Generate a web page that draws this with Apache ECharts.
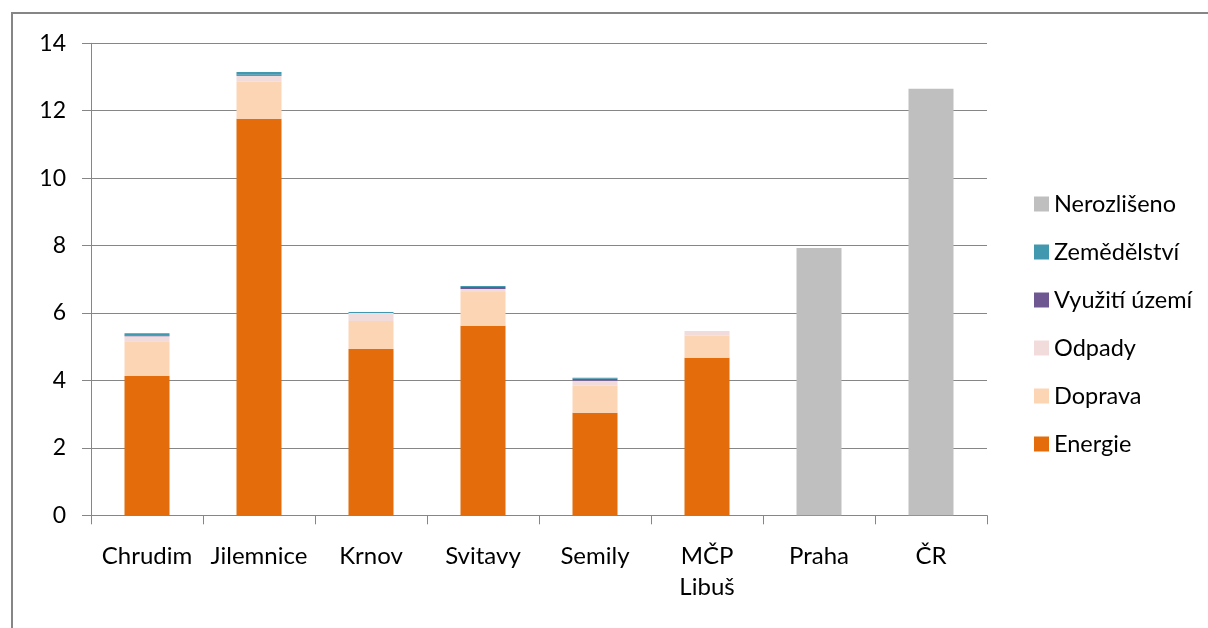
<!DOCTYPE html>
<html>
<head>
<meta charset="utf-8">
<script src="https://cdn.jsdelivr.net/npm/echarts@6/dist/echarts.min.js"></script>
<style>html,body{margin:0;padding:0;background:#fff;}#c{width:1208px;height:628px;}</style>
</head>
<body>
<div id="c"></div>
<script>
var categories = ['Chrudim', 'Jilemnice', 'Krnov', 'Svitavy', 'Semily', 'MČP\nLibuš', 'Praha', 'ČR'];
var energie     = [4.13, 11.76, 4.93, 5.62, 3.04, 4.67, null, null];
var doprava     = [1.03, 1.10, 0.83, 1.00, 0.81, 0.66, null, null];
var odpady      = [0.15, 0.18, 0.24, 0.09, 0.14, 0.14, null, null];
var vyuziti     = [0.03, 0.03, 0.00, 0.06, 0.06, 0.00, null, null];
var zemedelstvi = [0.06, 0.08, 0.03, 0.03, 0.03, 0.00, null, null];
var nerozliseno = [null, null, null, null, null, null, 7.93, 12.65];
var yTicks = [0, 2, 4, 6, 8, 10, 12, 14];

var FONT = 'Lato';
var chart = echarts.init(document.getElementById('c'), null, {renderer: 'canvas'});
function s(name, data, color) {
  return {name: name, type: 'bar', stack: 'a', data: data, barWidth: 45,
    itemStyle: {color: color}, emphasis: {disabled: true}};
}
chart.setOption({
  animation: false,
  textStyle: {fontFamily: FONT},
  graphic: [{type: 'rect', shape: {x: 12, y: 13, width: 1300, height: 700},
    style: {fill: 'none', stroke: '#868686', lineWidth: 2}, silent: true}],
  grid: {left: 91, right: 221, top: 43.3, bottom: 112.7, containLabel: false},
  legend: {
    orient: 'vertical', left: 1029, top: 187,
    itemWidth: 15, itemHeight: 15, itemGap: 24,
    icon: 'rect',
    textStyle: {fontFamily: FONT, fontSize: 23.5, color: '#000', lineHeight: 24},
    data: ['Nerozlišeno', 'Zemědělství', 'Využití území', 'Odpady', 'Doprava', 'Energie']
  },
  xAxis: {
    type: 'category', data: categories, boundaryGap: true,
    axisLine: {lineStyle: {color: '#868686', width: 1}},
    axisTick: {show: true, length: 9, interval: 0, lineStyle: {color: '#868686'}},
    axisLabel: {interval: 0, margin: 25, fontFamily: FONT, fontSize: 24, color: '#000', lineHeight: 31}
  },
  yAxis: {
    type: 'value', min: 0, max: 14, interval: 2,
    axisLine: {show: true, lineStyle: {color: '#868686', width: 1}},
    axisTick: {show: true, length: 9, lineStyle: {color: '#868686'}},
    splitLine: {show: true, lineStyle: {color: '#868686', width: 1}},
    axisLabel: {margin: 25, fontFamily: FONT, fontSize: 23, color: '#000',
      formatter: function (v) { return yTicks.indexOf(v) >= 0 ? String(v) : ''; }}
  },
  series: [
    s('Energie', energie, '#E46C0A'),
    s('Doprava', doprava, '#FCD5B5'),
    s('Odpady', odpady, '#F2DCDB'),
    s('Využití území', vyuziti, '#6F5892'),
    s('Zemědělství', zemedelstvi, '#4198AF'),
    s('Nerozlišeno', nerozliseno, '#BFBFBF')
  ]
});
</script>
</body>
</html>
